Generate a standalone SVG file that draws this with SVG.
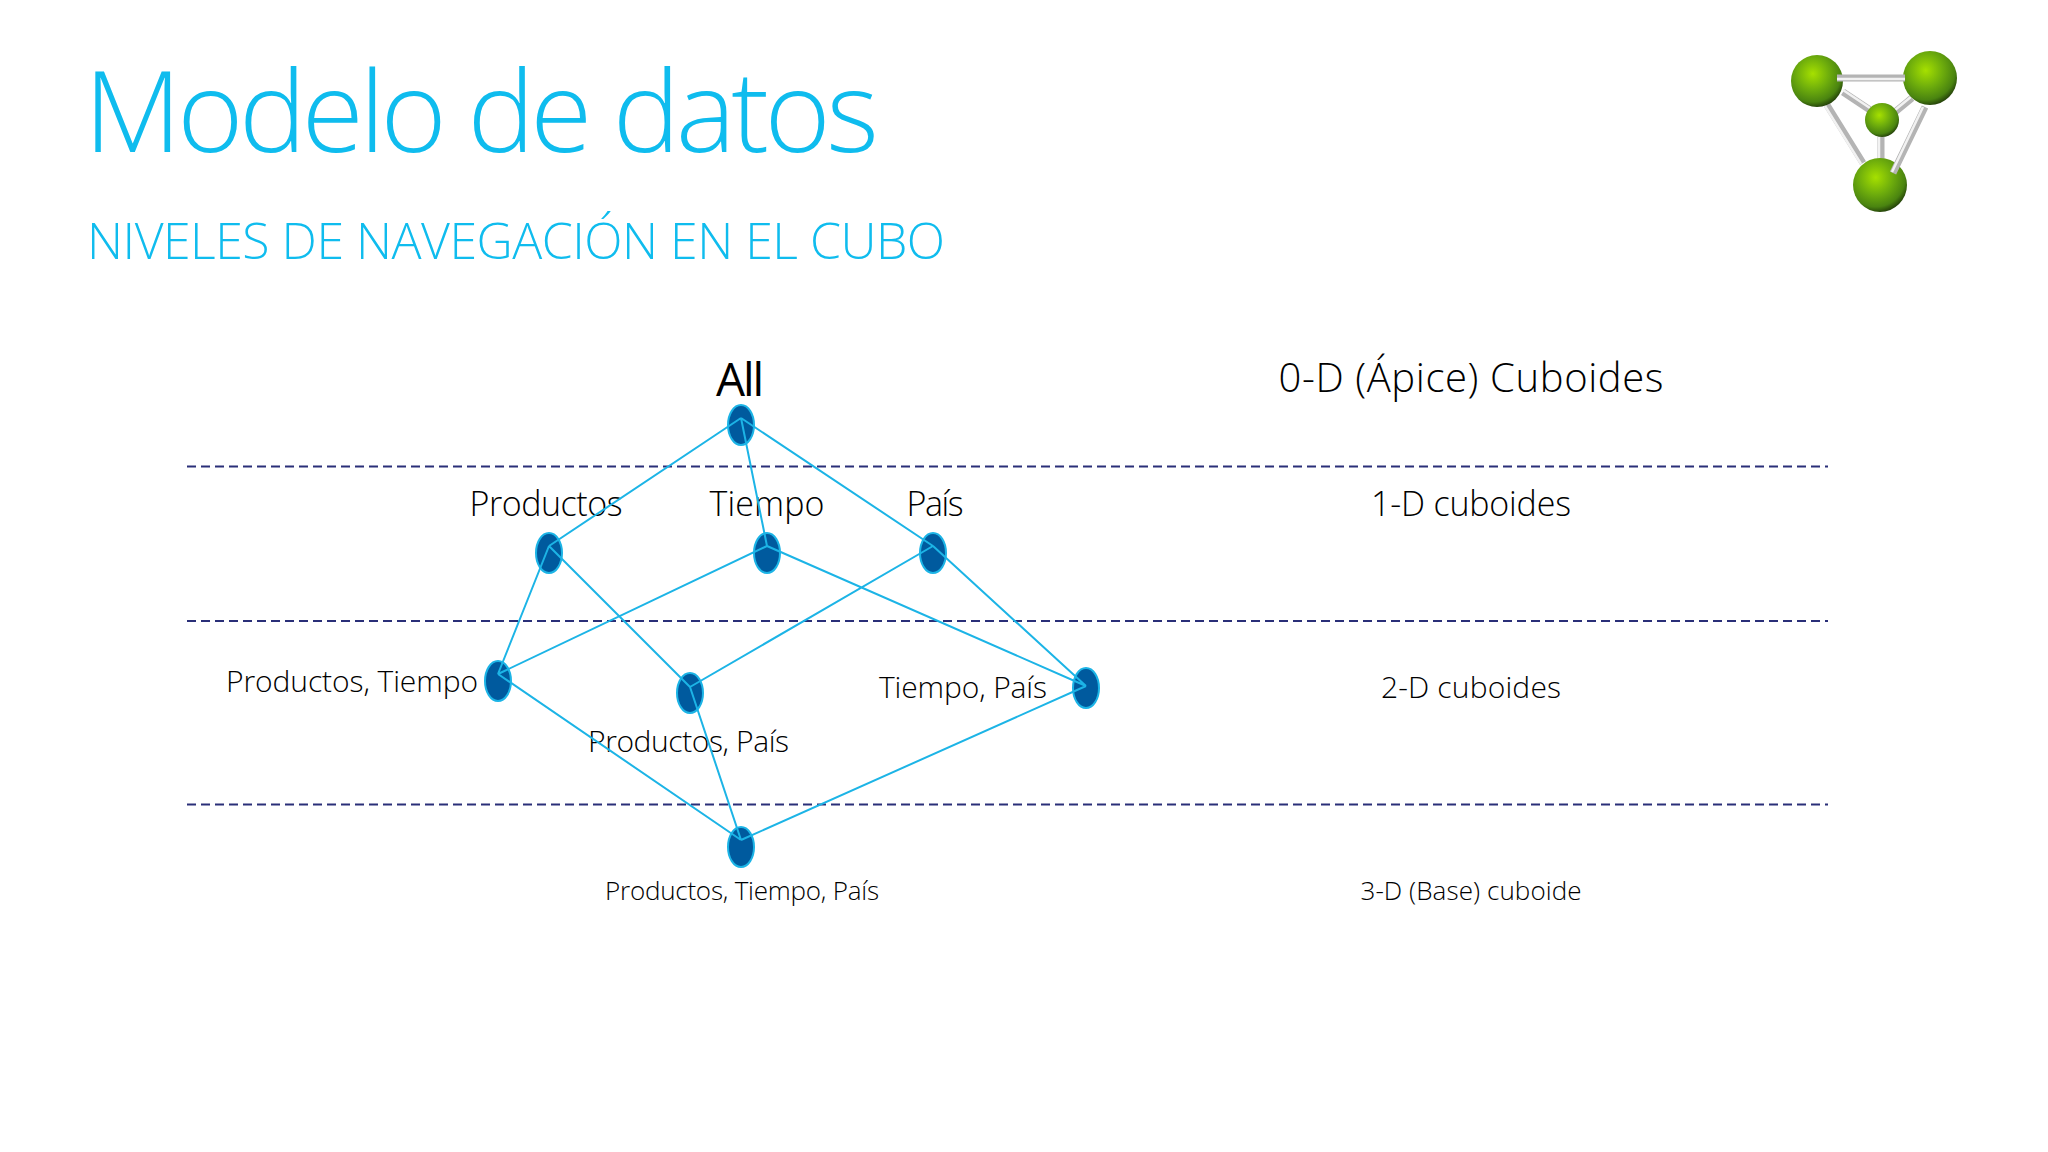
<svg xmlns="http://www.w3.org/2000/svg" width="2048" height="1152" viewBox="0 0 2048 1152">
<style>
text{font-family:"Open Sans","Noto Sans",sans-serif;font-weight:300;fill:#000}
.c{text-anchor:middle}
.t{fill:#0fbcee}
.n{fill:#005a9e;stroke:#1cb4e6;stroke-width:2}
.e{stroke:#1cb4e6;stroke-width:2;fill:none}
.d{stroke:#2a2f78;stroke-width:2;stroke-dasharray:9 5}
.b{stroke:#b4b4b4;stroke-width:7;fill:none}
.h{stroke:#f2f2f2;stroke-width:2.5;fill:none}
.s{fill:url(#g)}
</style>
<defs>
<radialGradient id="g" cx="0.42" cy="0.36" r="0.68">
<stop offset="0" stop-color="#a6e000"/><stop offset="0.45" stop-color="#6fae0c"/><stop offset="0.8" stop-color="#4a8410"/><stop offset="1" stop-color="#1c3308"/>
</radialGradient>
</defs>
<rect width="2048" height="1152" fill="#fff"/>
<text class="t" x="84" y="152" font-size="113" textLength="795">Modelo de datos</text>
<text class="t" x="87" y="259" font-size="50" textLength="858">NIVELES DE NAVEGACIÓN EN EL CUBO</text>
<g id="icon">
<path class="b" d="M1843 92L1870 110M1912 98L1895 112M1881 137V160M1827 105L1863 163"/>
<path class="h" d="M1843 90L1870 108M1912 96L1895 110M1879 137V160M1825 106L1861 164"/>
<circle class="s" cx="1817" cy="81" r="26"/><circle class="s" cx="1930" cy="78" r="27"/><circle class="s" cx="1882" cy="120" r="17"/><circle class="s" cx="1880" cy="185" r="27"/>
<path class="b" d="M1837 78H1905M1925 107L1893 173"/>
<path class="h" d="M1837 79H1905M1923 107L1892 172"/>
</g>
<g id="levels">
<line class="d" x1="187" y1="466.5" x2="1828" y2="466.5"/>
<line class="d" x1="187" y1="621" x2="1828" y2="621"/>
<line class="d" x1="187" y1="804.5" x2="1828" y2="804.5"/>
</g>
<g id="nodes">
<g id="n-all"><ellipse class="n" cx="741" cy="425" rx="13" ry="20"/><text class="c" x="740" y="396" font-size="46" textLength="48" style="font-weight:400">All</text></g>
<g id="n-p"><ellipse class="n" cx="549" cy="553" rx="13" ry="20"/><text class="c" x="546" y="516" font-size="34" textLength="153">Productos</text></g>
<g id="n-t"><ellipse class="n" cx="767" cy="553" rx="13" ry="20"/><text class="c" x="767" y="516" font-size="34" textLength="115">Tiempo</text></g>
<g id="n-c"><ellipse class="n" cx="933" cy="553" rx="13" ry="20"/><text class="c" x="935" y="516" font-size="34" textLength="57">País</text></g>
<g id="n-pt"><ellipse class="n" cx="498" cy="681" rx="13" ry="20"/><text x="226" y="692" font-size="30" textLength="252">Productos, Tiempo</text></g>
<g id="n-pc"><ellipse class="n" cx="690" cy="693" rx="13" ry="20"/><text x="588" y="752" font-size="30" textLength="201">Productos, País</text></g>
<g id="n-tc"><ellipse class="n" cx="1086" cy="688" rx="13" ry="20"/><text x="879" y="698" font-size="30" textLength="168">Tiempo, País</text></g>
<g id="n-ptc"><ellipse class="n" cx="741" cy="847" rx="13" ry="20"/><text x="605" y="900" font-size="26" textLength="274">Productos, Tiempo, País</text></g>
</g>
<g id="connectors">
<path class="e" d="M741 418L549 546M741 418L767 546M741 418L933 546M549 546L498 674M549 546L690 687M767 546L498 674M767 546L1086 686M933 546L690 687M933 546L1086 686M498 674L741 840M690 687L741 840M1086 686L741 840"/>
</g>
<g id="dimension-labels">
<text class="c" x="1471" y="392" font-size="40" textLength="385">0-D (Ápice) Cuboides</text>
<text class="c" x="1471" y="516" font-size="34" textLength="200">1-D cuboides</text>
<text class="c" x="1471" y="698" font-size="30" textLength="180">2-D cuboides</text>
<text class="c" x="1471" y="900" font-size="26" textLength="221">3-D (Base) cuboide</text>
</g>
</svg>
